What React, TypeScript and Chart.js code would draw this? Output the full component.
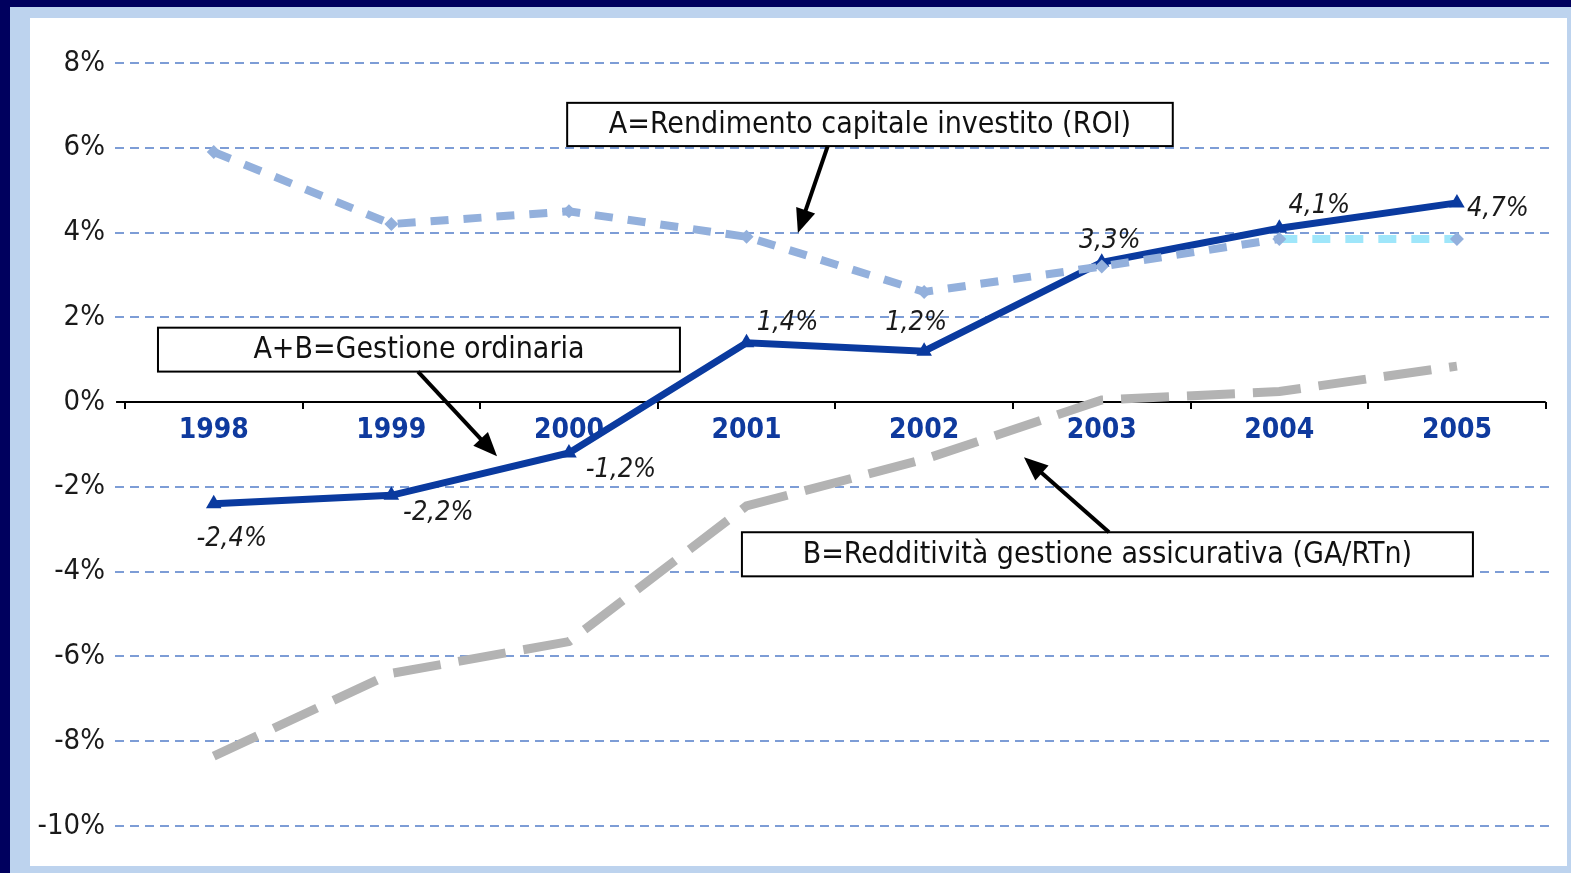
import React, { useEffect, useRef } from "react";
import { Chart, registerables } from "chart.js";
Chart.register(...registerables);

const years = ["1998", "1999", "2000", "2001", "2002", "2003", "2004", "2005"];
const roiA = [5.9, 4.2, 4.5, 3.9, 2.6, 3.2, 3.85, 3.85];
const gestioneAB = [-2.4, -2.2, -1.2, 1.4, 1.2, 3.3, 4.1, 4.7];
const redditB = [-8.35, -6.4, -5.65, -2.45, -1.35, 0.05, 0.25, 0.85];
const abLabels = ["-2,4%", "-2,2%", "-1,2%", "1,4%", "1,2%", "3,3%", "4,1%", "4,7%"];
const yMin = -10;
const yMax = 8;
const yStep = 2;

const FONT = '"Liberation Sans Narrow", "Arial Narrow", "DejaVu Sans Condensed", "Roboto Condensed", sans-serif';

// label offsets (pixels) relative to each A+B point
const labelOffsets = [
  [18, 35], [47, 18], [52, 17], [41, -20], [-8, -28], [8, -21], [40, -22], [41, 6],
];

// annotation boxes in data coordinates
const annotations = [
  { text: "A=Rendimento capitale investito (ROI)", x0: 1.99, x1: 5.4, y0: 7.06, y1: 6.04, a: [3.457, 6.04, 3.289, 3.99] },
  { text: "A+B=Gestione ordinaria", x0: -0.314, x1: 2.625, y0: 1.756, y1: 0.72, a: [1.15, 0.72, 1.595, -1.28] },
  { text: "B=Redditività gestione assicurativa (GA/RTn)", x0: 2.974, x1: 7.09, y0: -3.07, y1: -4.11, a: [5.041, -3.07, 4.562, -1.3] },
];

const overlayPlugin = {
  id: "overlay",
  beforeDatasetsDraw(chart: any) {
    const { ctx } = chart;
    const xs = chart.scales.x;
    const ys = chart.scales.y;
    const y0 = ys.getPixelForValue(0);
    ctx.save();
    ctx.strokeStyle = "#000";
    ctx.lineWidth = 2;
    ctx.beginPath();
    ctx.moveTo(xs.getPixelForValue(-0.55), y0);
    ctx.lineTo(xs.getPixelForValue(years.length - 0.5), y0);
    ctx.stroke();
    for (let i = 0; i <= years.length; i++) {
      const x = Math.round(xs.getPixelForValue(i - 0.5));
      ctx.beginPath();
      ctx.moveTo(x, y0);
      ctx.lineTo(x, y0 + 7);
      ctx.stroke();
    }
    ctx.fillStyle = "#0f3a9e";
    ctx.font = `bold 28px ${FONT}`;
    ctx.textAlign = "center";
    ctx.textBaseline = "middle";
    years.forEach((yr, i) => {
      ctx.fillText(yr, xs.getPixelForValue(i), y0 + 29);
    });
    ctx.restore();
  },
  afterDatasetsDraw(chart: any) {
    const { ctx } = chart;
    const xs = chart.scales.x;
    const ys = chart.scales.y;
    ctx.save();
    // data labels
    ctx.fillStyle = "#1a1a1a";
    ctx.font = `italic 27px ${FONT}`;
    ctx.textAlign = "center";
    ctx.textBaseline = "middle";
    gestioneAB.forEach((v, i) => {
      const px = xs.getPixelForValue(i);
      const py = ys.getPixelForValue(v);
      ctx.fillText(abLabels[i], px + labelOffsets[i][0], py + labelOffsets[i][1]);
    });
    // annotations
    annotations.forEach((an) => {
      const bx0 = xs.getPixelForValue(an.x0);
      const bx1 = xs.getPixelForValue(an.x1);
      const by0 = ys.getPixelForValue(an.y0);
      const by1 = ys.getPixelForValue(an.y1);
      ctx.fillStyle = "#fff";
      ctx.fillRect(bx0, by0, bx1 - bx0, by1 - by0);
      ctx.strokeStyle = "#000";
      ctx.lineWidth = 2;
      ctx.strokeRect(bx0, by0, bx1 - bx0, by1 - by0);
      ctx.fillStyle = "#111";
      ctx.font = `30px ${FONT}`;
      ctx.textAlign = "center";
      ctx.textBaseline = "middle";
      ctx.fillText(an.text, (bx0 + bx1) / 2, (by0 + by1) / 2 + 1);
      const sx = xs.getPixelForValue(an.a[0]);
      const sy = ys.getPixelForValue(an.a[1]);
      const ex = xs.getPixelForValue(an.a[2]);
      const ey = ys.getPixelForValue(an.a[3]);
      const ang = Math.atan2(ey - sy, ex - sx);
      const hl = 24;
      const hw = 10;
      ctx.strokeStyle = "#000";
      ctx.lineWidth = 4;
      ctx.beginPath();
      ctx.moveTo(sx, sy);
      ctx.lineTo(ex - Math.cos(ang) * hl * 0.8, ey - Math.sin(ang) * hl * 0.8);
      ctx.stroke();
      ctx.fillStyle = "#000";
      ctx.beginPath();
      ctx.moveTo(ex, ey);
      ctx.lineTo(ex - Math.cos(ang) * hl + Math.sin(ang) * hw, ey - Math.sin(ang) * hl - Math.cos(ang) * hw);
      ctx.lineTo(ex - Math.cos(ang) * hl - Math.sin(ang) * hw, ey - Math.sin(ang) * hl + Math.cos(ang) * hw);
      ctx.closePath();
      ctx.fill();
    });
    ctx.restore();
  },
};

export default function App() {
  const ref = useRef<HTMLCanvasElement | null>(null);
  useEffect(() => {
    if (!ref.current) return;
    const toXY = (arr: number[]) => arr.map((v, i) => ({ x: i, y: v }));
    const chart = new Chart(ref.current, {
      type: "line",
      data: {
        datasets: [
          {
            label: "B",
            data: toXY(redditB),
            borderColor: "#b3b3b3",
            borderWidth: 9,
            borderDash: [48, 18],
            pointRadius: 0,
            tension: 0,
          },
          {
            label: "A",
            data: toXY(roiA),
            borderColor: "#93b0dc",
            borderWidth: 8,
            borderDash: [18, 15],
            pointStyle: "rectRot",
            pointRadius: 7,
            pointBorderWidth: 0,
            pointBackgroundColor: "#93b0dc",
            tension: 0,
            segment: {
              borderColor: (c: any) => (c.p0DataIndex === 6 ? "#9fe6fa" : undefined),
            },
          },
          {
            label: "A+B",
            data: toXY(gestioneAB),
            borderColor: "#0a3a9f",
            borderWidth: 7,
            pointStyle: "triangle",
            pointRadius: 9,
            pointBorderWidth: 0,
            pointBackgroundColor: "#0a3a9f",
            tension: 0,
          },
        ],
      },
      options: {
        animation: false,
        responsive: false,
        devicePixelRatio: 1,
        layout: { padding: { left: 0, right: 17, top: 45, bottom: 40 } },
        plugins: { legend: { display: false }, tooltip: { enabled: false } },
        scales: {
          x: {
            type: "linear",
            min: -0.556,
            max: 7.524,
            display: false,
          },
          y: {
            min: yMin,
            max: yMax,
            border: { display: false, dash: [9, 6] },
            grid: {
              drawTicks: false,
              lineWidth: 2,
              color: (c: any) => (c.tick && c.tick.value === 0 ? "rgba(0,0,0,0)" : "#7d9dd6"),
            },
            ticks: {
              stepSize: yStep,
              padding: 10,
              color: "#1a1a1a",
              font: { family: FONT, size: 29 },
              callback: (v: any) => `${v}%`,
            },
            afterFit: (s: any) => {
              s.width = 85;
              s.paddingTop = 0;
              s.paddingBottom = 0;
            },
          },
        },
      },
      plugins: [overlayPlugin],
    } as any);
    return () => chart.destroy();
  }, []);

  return (
    <div style={{ position: "fixed", left: 0, top: 0, width: 1571, height: 873, background: "#00005e", overflow: "hidden" }}>
      <div style={{ position: "absolute", left: 10, top: 7, width: 1561, height: 866, background: "#bdd3ee" }} />
      <div style={{ position: "absolute", left: 30, top: 18, width: 1537, height: 848, background: "#fff" }}>
        <canvas ref={ref} width={1537} height={848} style={{ display: "block", width: 1537, height: 848 }} />
      </div>
    </div>
  );
}
